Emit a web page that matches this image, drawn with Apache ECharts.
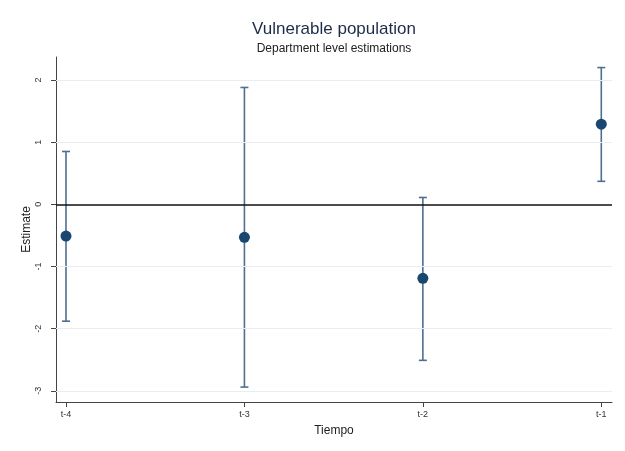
<!DOCTYPE html>
<html><head><meta charset="utf-8">
<script src="https://cdn.jsdelivr.net/npm/echarts@6/dist/echarts.min.js"></script>
<style>html,body{margin:0;padding:0;background:#fff}#c{width:625px;height:451px}</style>
</head><body><div id="c"></div>
<script>
const categories = ['t-4', 't-3', 't-2', 't-1'];
const estimates = [-0.51, -0.53, -1.19, 1.29];
const lowerCI = [-1.88, -2.94, -2.51, 0.37];
const upperCI = [0.85, 1.88, 0.11, 2.20];
const yTicks = [-3, -2, -1, 0, 1, 2];

const chart = echarts.init(document.getElementById('c'));
const font = 'Liberation Sans, Arial, sans-serif';
chart.setOption({
  animation: false,
  title: {
    text: 'Vulnerable population', subtext: 'Department level estimations',
    left: 329, textAlign: 'center', top: 16, itemGap: 5,
    textStyle: {fontFamily: font, fontSize: 17, fontWeight: 'normal', color: '#1e2b48'},
    subtextStyle: {fontFamily: font, fontSize: 12, color: '#222'}
  },
  grid: {left: 56, right: 13, top: 57, bottom: 49},
  xAxis: {
    type: 'value', min: -0.056, max: 3.06,
    name: 'Tiempo', nameLocation: 'middle', nameGap: 23,
    nameTextStyle: {fontFamily: font, fontSize: 12, color: '#222'},
    axisLine: {onZero: false, lineStyle: {color: '#444', width: 1}},
    axisTick: {show: true, length: 5, lineStyle: {color: '#444', width: 1}, customValues: [0, 1, 2, 3]},
    axisLabel: {fontFamily: font, fontSize: 9, color: '#333', margin: 8,
      customValues: [0, 1, 2, 3], formatter: v => categories[Math.round(v)]},
    splitLine: {show: false}
  },
  yAxis: {
    type: 'value', min: -3.18, max: 2.37,
    name: 'Estimate', nameLocation: 'middle', nameGap: 23, nameRotate: 90, nameMoveOverlap: false,
    nameTextStyle: {fontFamily: font, fontSize: 12, color: '#222'},
    axisLine: {show: true, onZero: false, lineStyle: {color: '#444', width: 1}},
    axisTick: {show: true, length: 5, lineStyle: {color: '#444', width: 1}, customValues: yTicks},
    axisLabel: {fontFamily: font, fontSize: 9, color: '#333', rotate: 90, margin: 13,
      customValues: yTicks, formatter: v => String(v)},
    splitLine: {show: false}
  },
  series: [
    {
      type: 'line', data: [], silent: true,
      markLine: {
        symbol: 'none', silent: true, label: {show: false},
        data: yTicks.filter(v => v !== 0).map(v => ({yAxis: v, lineStyle: {color: '#e6eef4', width: 1, type: 'solid'}}))
          .concat([{yAxis: 0, lineStyle: {color: '#111', width: 1.5, type: 'solid'}}])
      }
    },
    {
      type: 'custom',
      data: categories.map((c, i) => [i, lowerCI[i], upperCI[i]]),
      renderItem: function (params, api) {
        const x = api.value(0);
        const lo = api.coord([x, api.value(1)]);
        const hi = api.coord([x, api.value(2)]);
        const w = 4;
        const st = {stroke: '#4f6f8f', lineWidth: 1.6};
        return {type: 'group', children: [
          {type: 'line', shape: {x1: lo[0], y1: lo[1], x2: hi[0], y2: hi[1]}, style: st},
          {type: 'line', shape: {x1: lo[0] - w, y1: lo[1], x2: lo[0] + w, y2: lo[1]}, style: st},
          {type: 'line', shape: {x1: hi[0] - w, y1: hi[1], x2: hi[0] + w, y2: hi[1]}, style: st}
        ]};
      },
      z: 3
    },
    {
      type: 'scatter', symbol: 'circle', symbolSize: 11,
      itemStyle: {color: '#1a476f', opacity: 1},
      data: categories.map((c, i) => [i, estimates[i]]),
      z: 4
    }
  ]
});
</script></body></html>
